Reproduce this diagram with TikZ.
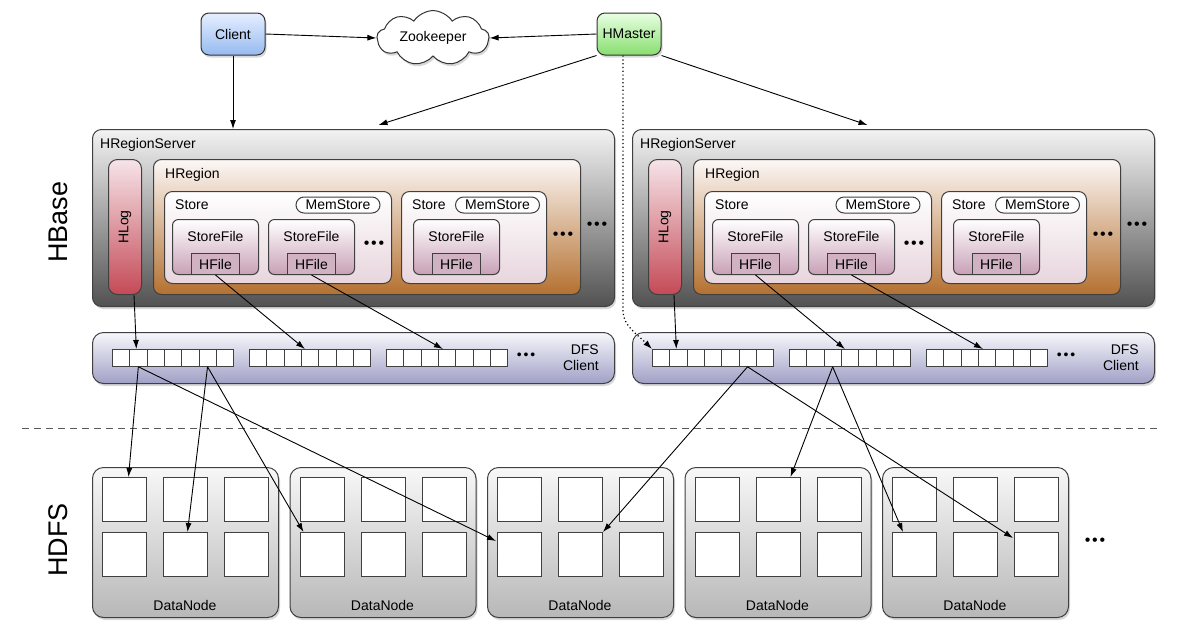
\documentclass[tikz,border=0pt]{standalone}
\usepackage{fontspec}
\setmainfont{Liberation Sans}
\usepackage{tikz}
\definecolor{clienttop}{RGB}{230,239,255}
\definecolor{clientbot}{RGB}{150,186,240}
\definecolor{mastertop}{RGB}{232,255,226}
\definecolor{masterbot}{RGB}{136,222,112}
\definecolor{logtop}{RGB}{246,228,233}
\definecolor{logbot}{RGB}{196,74,86}
\definecolor{regtop}{RGB}{252,248,246}
\definecolor{regbot}{RGB}{180,112,48}
\definecolor{filebot}{RGB}{200,160,182}
\definecolor{hfilefill}{RGB}{208,178,194}
\definecolor{dfstop}{RGB}{247,247,252}
\definecolor{dfsbot}{RGB}{160,160,198}
\usetikzlibrary{calc,shapes,shapes.symbols,shadows,arrows.meta,positioning}
\newcommand{\threedots}{•\kern1.8pt•\kern1.8pt•}

\begin{document}
\begin{tikzpicture}[
  x=1pt, y=-1pt,
  font=\fontsize{14}{16}\selectfont,
  arr/.style={-{Latex[length=9pt,width=6pt]}, line width=0.9pt},
  shady/.style={drop shadow={shadow xshift=1.5pt, shadow yshift=-2.5pt, opacity=0.3}},
  panel/.style 2 args={
    draw=black!75,
    line width=1pt,
    anchor=north west,
    inner sep=0pt,
    minimum width=#1,
    minimum height=#2
    },
  srvbox/.style={panel={522}{177}, rounded corners=9pt, top color=black!5, bottom color=black!68, shady},
  logbox/.style={panel={33}{135}, rounded corners=9pt, top color=logtop, bottom color=logbot},
  regbox/.style={panel={427}{135}, rounded corners=8pt, top color=regtop, bottom color=regbot},
  storebox/.style={panel={#1}{92}, rounded corners=8pt, top color=white, bottom color=regtop!60!filebot},
  sfbox/.style={panel={86}{55}, rounded corners=6pt, top color=white, bottom color=filebot},
  hfbox/.style={draw=black!75, line width=1pt, anchor=south, inner sep=0pt,
    minimum width=48, minimum height=21, fill=hfilefill},
  mem/.style={draw=black!75, line width=1pt, fill=white, rounded corners=8pt,
    inner sep=0pt, minimum width=84, minimum height=16},
  dfsbox/.style={panel={522}{51}, rounded corners=11pt, top color=dfstop, bottom color=dfsbot, shady},
  cell/.style={draw=black!75, line width=0.8pt, fill=white, anchor=north west,
    inner sep=0pt, minimum width=17.3, minimum height=17},
  dnbox/.style={panel={186}{150}, rounded corners=11pt, top color=black!3, bottom color=black!28, shady},
  blk/.style={draw=black!75, line width=1pt, fill=white, anchor=north west,
    inner sep=0pt, minimum size=44},
  topbox/.style={draw=black!80, line width=1pt, rounded corners=8pt,
    minimum width=64, minimum height=42, inner sep=0pt, shady},
  lbl/.style={anchor=west, inner sep=0pt},
  dotsn/.style={inner sep=0pt, font=\fontsize{16}{16}\selectfont},
  biglbl/.style={rotate=90, font=\fontsize{27}{30}\selectfont}
]
\useasboundingbox (0,0) rectangle (1184,633);
\fill[white] (0,0) rectangle (1184,633);

\node[topbox, top color=clienttop, bottom color=clientbot] (client) at (233,34) {Client};
\node[cloud, cloud puffs=9, cloud puff arc=115, aspect=2.4, draw=black!80, line width=1pt,
  fill=white, minimum width=112, minimum height=46, inner sep=0pt, shady] (zk) at (433,38) {Zookeeper};
\node[topbox, top color=mastertop, bottom color=masterbot] (hmaster) at (629,34) {HMaster};

\node[biglbl] (hbase) at (58,222) {HBase};
\node[biglbl] (hdfs) at (58,540) {HDFS};

\foreach \dx [count=\s] in {0,540} {
  \node[srvbox] (srv\s) at (92+\dx,129) {};
  \node[lbl] (srvl\s) at (100+\dx,145) {HRegionServer};
  \node[logbox] (hlog\s) at (108+\dx,159) {};
  \node[rotate=90] (hlogl\s) at (hlog\s.center) {HLog};
  \node[regbox] (reg\s) at (153+\dx,159) {};
  \node[lbl] (regl\s) at (165+\dx,175) {HRegion};
  \node[storebox=227] (st\s1) at (164+\dx,191) {};
  \node[lbl] (stl\s1) at (175+\dx,205) {Store};
  \node[mem] (mem\s1) at (338+\dx,205) {MemStore};
  \node[storebox=145] (st\s2) at (401+\dx,191) {};
  \node[lbl] (stl\s2) at (412+\dx,205) {Store};
  \node[mem] (mem\s2) at (497.5+\dx,205) {MemStore};
  \foreach \fx [count=\f] in {172,268,413} {
    \node[sfbox] (sf\s\f) at (\fx+\dx,219) {};
    \node (sfl\s\f) at ($(sf\s\f.north)+(0,17)$) {StoreFile};
    \node[hfbox] (hf\s\f) at (sf\s\f.south) {HFile};
  }
  \node[dotsn] (dt\s1) at (374+\dx,245) {\threedots};
  \node[dotsn] (dt\s2) at (563+\dx,236) {\threedots};
  \node[dotsn] (dt\s3) at (597+\dx,226) {\threedots};

  \node[dfsbox] (dfs\s) at (92+\dx,332) {};
  \node[align=right, anchor=east, inner sep=0pt] (dfsl\s) at (599+\dx,358) {DFS\\Client};
  \foreach \gx [count=\g] in {112,249,386}
    \foreach \k in {1,...,7}
      \node[cell] (d\s\g-\k) at (\gx+\dx+17.3*\k-17.3,349) {};
  \node[dotsn, font=\fontsize{14}{14}\selectfont] (dt\s4) at (526+\dx,356) {\threedots};

  \draw[arr] ([xshift=9pt]hlog\s.south) -- ($(d\s1-2.north)+(-2,0)$);
  \draw[arr] (hf\s1.south) -- ($(d\s2-4.north west)+(4,0)$);
  \draw[arr] (hf\s2.south) -- ($(d\s3-4.north west)+(5,0)$);
}

\foreach \nx [count=\n] in {92,289.5,487,684.5,882} {
  \node[dnbox] (dn\n) at (\nx,467) {};
  \node (dnl\n) at (\nx+93,605) {DataNode};
  \foreach \r/\ry in {1/477,2/532}
    \foreach \k/\kx in {1/10,2/71,3/132}
      \node[blk] (n\n-\r\k) at (\nx+\kx,\ry) {};
}
\node[dotsn] (dt5) at (1095,542) {\threedots};

\coordinate (sepl) at (22,428);
\coordinate (sepr) at (1158,428);
\draw[dash pattern=on 7pt off 5pt, line width=0.9pt, black!65] (sepl) -- (sepr);

\draw[arr] (client.east) -- (zk.west);
\draw[arr] (hmaster.west) -- (zk.east);
\draw[arr] (client.south) -- (client.south |- srv1.north);
\draw[arr] (hmaster.south west) -- ($(srv1.north)+(25,-4)$);
\draw[arr] (hmaster.south east) -- ($(srv2.north)+(-26,-4)$);
\draw[arr, line width=1.2pt, dash pattern=on 1.2pt off 2.6pt] ([xshift=-6pt]hmaster.south) -- ++(0,256)
  .. controls +(0,14) and +(-14,-14) .. (d21-1.north west);

\draw[arr] (d11-2.south) -- ($(n1-11.north)+(4,0)$);
\draw[arr] (d11-2.south) -- ($(n3-21.north west)+(-1,9)$);
\draw[arr] (d11-6.south) -- ($(n1-22.north)+(2,0)$);
\draw[arr] (d11-6.south) -- ($(n2-21.north west)+(4,0)$);
\draw[arr] (d21-6.south) -- (n3-22.north east);
\draw[arr] (d21-6.south) -- ($(n5-23.north west)+(-1,6)$);
\draw[arr] (d22-3.south) -- ($(n4-12.north east)+(-10,0)$);
\draw[arr] (d22-3.south) -- ($(n5-21.north west)+(11,0)$);
\end{tikzpicture}
\end{document}
